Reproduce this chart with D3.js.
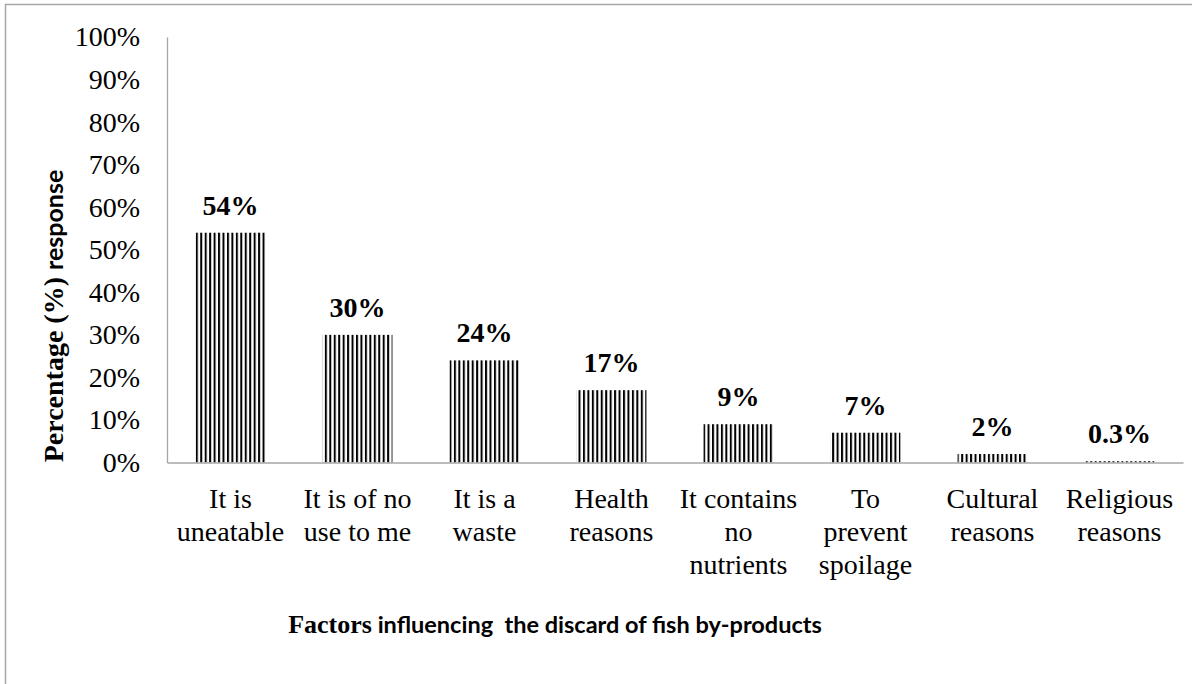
<!DOCTYPE html>
<html>
<head>
<meta charset="utf-8">
<script src="https://cdn.jsdelivr.net/npm/d3@7/dist/d3.min.js"></script>
<style>
  html, body { margin: 0; padding: 0; background: #fff; }
  svg { display: block; }
  .serif { font-family: "Liberation Serif", "Times New Roman", Times, "DejaVu Serif", serif; }
  .sans { font-family: Lato, "Open Sans", sans-serif; }
</style>
</head>
<body>
<script>
// Reasons respondents gave for discarding fish by-products
const categories = [
  ["It is", "uneatable"],
  ["It is of no", "use to me"],
  ["It is a", "waste"],
  ["Health", "reasons"],
  ["It contains", "no", "nutrients"],
  ["To", "prevent", "spoilage"],
  ["Cultural", "reasons"],
  ["Religious", "reasons"]
];
const values = [54, 30, 24, 17, 9, 7, 2, 0.3];
const valueLabels = ["54%", "30%", "24%", "17%", "9%", "7%", "2%", "0.3%"];
const yTicks = [0, 10, 20, 30, 40, 50, 60, 70, 80, 90, 100];

const W = 1192, H = 684;
const margin = { left: 167, right: 9, top: 37, bottom: 221 };

const svg = d3.select("body").append("svg")
  .attr("width", W).attr("height", H);

// vertical stripe fill
const defs = svg.append("defs");
const pat = defs.append("pattern")
  .attr("id", "vstripes")
  .attr("patternUnits", "userSpaceOnUse")
  .attr("width", 4.45).attr("height", 10);
pat.append("rect").attr("x", 0).attr("y", 0)
  .attr("width", 2).attr("height", 10).attr("fill", "#000");

// outer frame
svg.append("rect")
  .attr("x", 5.5).attr("y", 4.5)
  .attr("width", W + 20).attr("height", H + 20)
  .attr("fill", "none").attr("stroke", "#a6a6a6").attr("stroke-width", 1.5);

const x = d3.scaleBand()
  .domain(d3.range(categories.length))
  .range([margin.left, W - margin.right])
  .paddingInner(0.45).paddingOuter(0.225);

const y = d3.scaleLinear()
  .domain([0, 100])
  .range([H - margin.bottom - 0.5, margin.top]);

// y axis
const yAxis = d3.axisLeft(y)
  .tickValues(yTicks)
  .tickFormat(d => d + "%")
  .tickSize(0)
  .tickPadding(27);
const gy = svg.append("g")
  .attr("transform", `translate(${margin.left},0)`)
  .call(yAxis)
  .attr("font-family", null);
gy.select(".domain").attr("stroke", "#a6a6a6").attr("stroke-width", 1.3);
gy.selectAll("text")
  .attr("class", "serif").attr("font-size", 28).attr("fill", "#000");

// bars
svg.append("g").selectAll("rect")
  .data(values)
  .join("rect")
  .attr("x", (d, i) => x(i))
  .attr("width", x.bandwidth())
  .attr("y", d => y(d))
  .attr("height", d => y(0) - y(d))
  .attr("fill", "url(#vstripes)");

// value labels
svg.append("g").selectAll("text")
  .data(values)
  .join("text")
  .attr("class", "serif")
  .attr("x", (d, i) => x(i) + x.bandwidth() / 2)
  .attr("y", d => y(d) - 18)
  .attr("text-anchor", "middle")
  .attr("font-weight", "bold").attr("font-size", 28)
  .attr("fill", "#000")
  .text((d, i) => valueLabels[i]);

// x axis baseline
const xAxis = d3.axisBottom(x).tickSize(0).tickFormat("");
const gx = svg.append("g")
  .attr("transform", `translate(0,${y(0)})`)
  .call(xAxis);
gx.select(".domain").attr("stroke", "#a6a6a6").attr("stroke-width", 1.3);

// category labels (multi-line)
const catG = svg.append("g");
categories.forEach((lines, i) => {
  const t = catG.append("text")
    .attr("class", "serif")
    .attr("text-anchor", "middle")
    .attr("font-size", 28).attr("fill", "#000");
  lines.forEach((ln, k) => {
    t.append("tspan")
      .attr("x", x(i) + x.bandwidth() / 2)
      .attr("y", y(0) + 45 + k * 33)
      .text(ln);
  });
});

// x axis title
const xt = svg.append("text")
  .attr("x", 555).attr("y", 633)
  .attr("text-anchor", "middle")
  .attr("fill", "#000").attr("font-weight", "bold")
  .style("white-space", "pre");
xt.append("tspan").attr("class", "serif").attr("font-size", 26).text("Factors");
xt.append("tspan").attr("class", "sans").attr("font-size", 23.5)
  .text(" influencing  the discard of fish by-products");

// y axis title
const yt = svg.append("text")
  .attr("transform", "translate(63,316) rotate(-90)")
  .attr("text-anchor", "middle")
  .attr("fill", "#000").attr("font-weight", "bold");
yt.append("tspan").attr("class", "serif").attr("font-size", 28).text("Percentage (%) ");
yt.append("tspan").attr("class", "sans").attr("font-size", 25).text("response");
</script>
</body>
</html>
